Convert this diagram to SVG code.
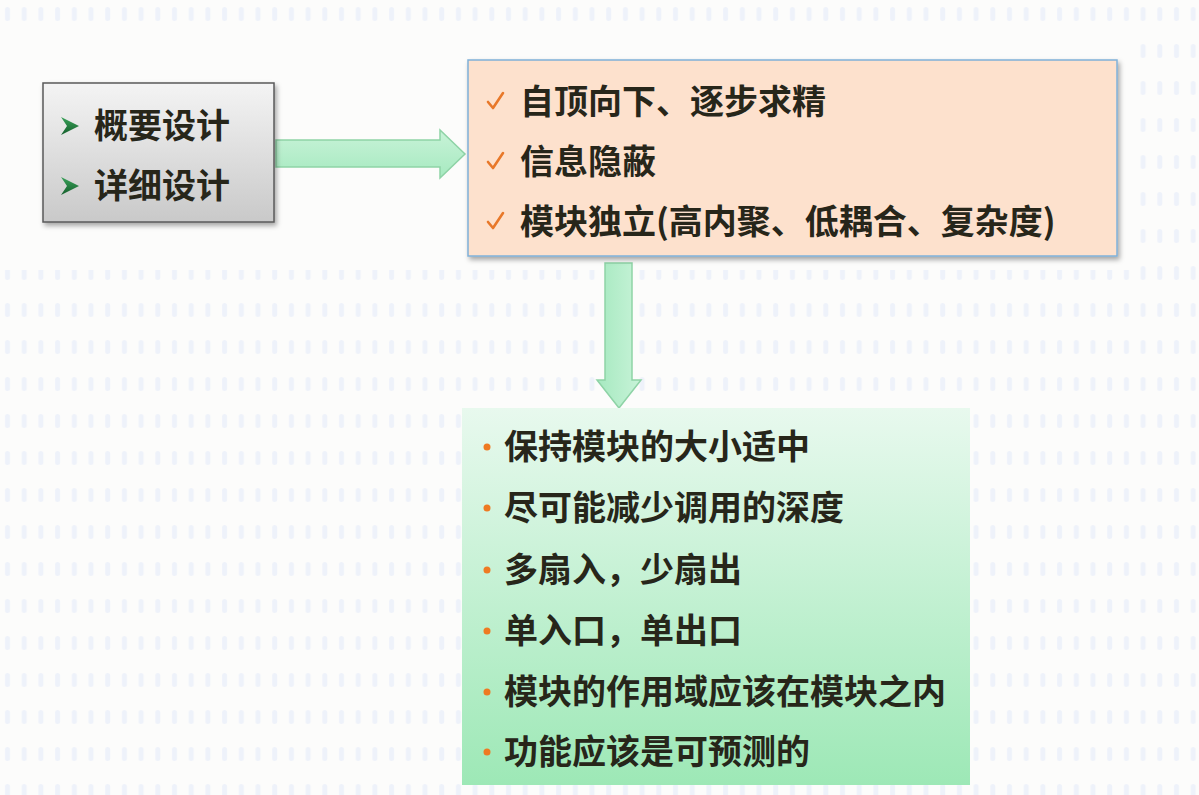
<svg xmlns="http://www.w3.org/2000/svg" width="1199" height="795" viewBox="0 0 1199 795">
  <style>
    .t { font-family: "Noto Sans CJK SC", "Noto Sans", sans-serif; font-weight: 700; font-size: 34px; fill: #27261a; }
    .chk { fill: none; stroke: #e8782a; stroke-width: 2.6; stroke-linecap: round; stroke-linejoin: round; }
    .dot { fill: #ee7a22; }
    .arrow { fill: url(#arrowGrad); stroke: #8ed3a6; stroke-width: 1.5; }
  </style>
  <defs>
    <pattern id="dash" x="0" y="266" width="16.7" height="37" patternUnits="userSpaceOnUse">
      <rect x="5" y="0" width="5" height="14" rx="2.5" fill="#e9eff9" opacity="0.75"/>
    </pattern>
    <linearGradient id="grayGrad" x1="0" y1="0" x2="0" y2="1">
      <stop offset="0" stop-color="#f4f4f4"/>
      <stop offset="1" stop-color="#c9c9c9"/>
    </linearGradient>
    <linearGradient id="greenGrad" x1="0" y1="0" x2="0" y2="1">
      <stop offset="0" stop-color="#e8f9ee"/>
      <stop offset="1" stop-color="#9de8b6"/>
    </linearGradient>
    <linearGradient id="arrowGrad" x1="0" y1="0" x2="0" y2="1">
      <stop offset="0" stop-color="#c8f3d8"/>
      <stop offset="1" stop-color="#a6e9c0"/>
    </linearGradient>
    <linearGradient id="arrowGradV" x1="0" y1="0" x2="1" y2="0">
      <stop offset="0" stop-color="#a6e9c0"/>
      <stop offset="1" stop-color="#c8f3d8"/>
    </linearGradient>
    <linearGradient id="bulletGrad" x1="0" y1="0" x2="0" y2="1">
      <stop offset="0" stop-color="#3aa25a"/>
      <stop offset="1" stop-color="#155f2c"/>
    </linearGradient>
    <filter id="shadow" x="-10%" y="-10%" width="125%" height="130%">
      <feDropShadow dx="2" dy="3" stdDeviation="2.5" flood-color="#000" flood-opacity="0.35"/>
    </filter>
    <polygon id="arrowBullet" points="0,0 18,9 0,18 6,9" fill="url(#bulletGrad)"/>
    <path id="check" d="M0,9 L5,15 L15,0"/>
  </defs>

  <!-- background -->
  <rect x="0" y="0" width="1199" height="795" fill="#fcfcfb"/>
  <rect x="0" y="270" width="1199" height="525" fill="url(#dash)"/>
  <rect x="0" y="0" width="1199" height="22" fill="url(#dash)"/>
  <rect x="1140" y="22" width="59" height="248" fill="url(#dash)"/>

  <!-- connectors -->
  <g id="connectors">
    <path class="arrow" d="M276,140 L440,140 L440,130 L465,154 L440,178 L440,167 L276,167 Z"/>
    <path d="M605,263 L632,263 L632,380 L641,380 L619,408 L597,380 L605,380 Z" fill="url(#arrowGradV)" stroke="#8ed3a6" stroke-width="1.5"/>
  </g>

  <!-- node: design phases -->
  <g id="node-phases">
    <rect x="43" y="83" width="231" height="139" fill="url(#grayGrad)" stroke="#5a5a5a" stroke-width="1.5" filter="url(#shadow)"/>
    <use href="#arrowBullet" x="61" y="117"/>
    <text class="t" x="94" y="138">概要设计</text>
    <use href="#arrowBullet" x="61" y="177"/>
    <text class="t" x="94" y="198">详细设计</text>
  </g>

  <!-- node: principles -->
  <g id="node-principles">
    <rect x="468" y="60" width="649" height="196" fill="#fde1cd" stroke="#7fb0d8" stroke-width="1.5" filter="url(#shadow)"/>
    <use href="#check" class="chk" x="488" y="93"/>
    <text class="t" x="520" y="114">自顶向下、逐步求精</text>
    <use href="#check" class="chk" x="488" y="153"/>
    <text class="t" x="520" y="174">信息隐蔽</text>
    <use href="#check" class="chk" x="488" y="213"/>
    <text class="t" x="520" y="234">模块独立(高内聚、低耦合、复杂度)</text>
  </g>

  <!-- node: heuristics -->
  <g id="node-heuristics">
    <rect x="462" y="408" width="508" height="377" fill="url(#greenGrad)"/>
    <circle class="dot" cx="487" cy="447" r="3.5"/>
    <text class="t" x="504" y="459">保持模块的大小适中</text>
    <circle class="dot" cx="487" cy="508" r="3.5"/>
    <text class="t" x="504" y="520">尽可能减少调用的深度</text>
    <circle class="dot" cx="487" cy="570" r="3.5"/>
    <text class="t" x="504" y="582">多扇入，少扇出</text>
    <circle class="dot" cx="487" cy="631" r="3.5"/>
    <text class="t" x="504" y="643">单入口，单出口</text>
    <circle class="dot" cx="487" cy="692" r="3.5"/>
    <text class="t" x="504" y="704">模块的作用域应该在模块之内</text>
    <circle class="dot" cx="487" cy="752" r="3.5"/>
    <text class="t" x="504" y="764">功能应该是可预测的</text>
  </g>
</svg>
